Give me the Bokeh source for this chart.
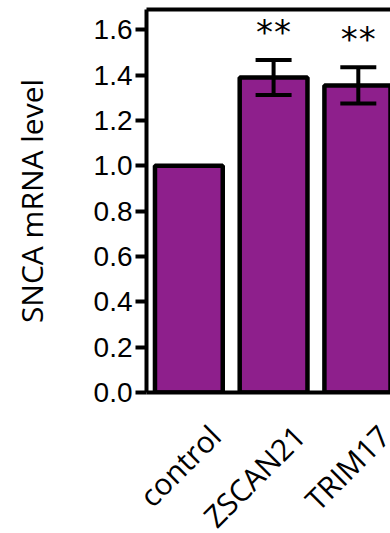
import numpy as np
from bokeh.plotting import figure
from bokeh.layouts import column
from bokeh.models import (ColumnDataSource, Range1d, FixedTicker, LinearAxis,
                          Whisker, TeeHead, NumeralTickFormatter)
from bokeh.embed import file_html
from bokeh.resources import INLINE
from bokeh.core.properties import value

# ---- data ----
categories = ["control", "ZSCAN21", "TRIM17"]
levels = [1.0, 1.39, 1.355]
errors = [0.0, 0.077, 0.08]
stars = ["", "**", "**"]
y_ticks = [0.0, 0.2, 0.4, 0.6, 0.8, 1.0, 1.2, 1.4, 1.6]

PURPLE = "#8E1F8C"
W = 390
LEFT = 146          # frame left border
XMAX = 2.88         # visible part of the category axis (right edge is cropped)
TOP_H = 410         # height of the plot part
BOT_H = 533 - TOP_H # height of the category-label strip

pos = np.arange(len(categories)) + 0.5
lv = np.array(levels)
er = np.array(errors)

src = ColumnDataSource(dict(x=pos, top=lv, lab_y=np.ones(len(pos)), cat=categories))
has_err = er > 0
err_src = ColumnDataSource(dict(x=pos[has_err], upper=(lv + er)[has_err],
                                lower=(lv - er)[has_err]))
star_x, star_y, star_t = [], [], []
for x, u, s in zip(pos, lv + er, stars):
    for ch in s:
        star_x.append(x)
        star_y.append(u)
        star_t.append(ch)
star_src = ColumnDataSource(dict(x=star_x, y=star_y, t=star_t,
                                 dx=[-9 if i % 2 == 0 else 9 for i in range(len(star_t))]))

p = figure(width=W, height=TOP_H, output_backend="svg", toolbar_location=None,
           x_range=Range1d(0, XMAX), y_range=Range1d(0, 1.69),
           min_border_left=LEFT, min_border_right=0, min_border_top=9,
           min_border_bottom=18)
p.frame_align = False
p.outline_line_color = None
p.grid.visible = False
p.background_fill_color = "white"
p.border_fill_color = "white"

p.vbar(x="x", top="top", bottom=0, width=0.8, source=src,
       fill_color=PURPLE, line_color="black", line_width=4.5)

w = Whisker(base="x", upper="upper", lower="lower", source=err_src,
            line_color="black", line_width=4, level="annotation",
            upper_head=TeeHead(size=36, line_width=4, line_color="black"),
            lower_head=TeeHead(size=36, line_width=4, line_color="black"))
p.add_layout(w)

p.text(x="x", y="y", text="t", x_offset="dx", source=star_src,
       text_font=value("DejaVu Sans"), text_font_size="34px",
       text_align="center", text_baseline="middle", y_offset=-28,
       text_color="black")

# y axis
ya = p.yaxis[0]
ya.ticker = FixedTicker(ticks=y_ticks)
ya.formatter = NumeralTickFormatter(format="0.0")
ya.axis_label = "SNCA mRNA level"
ya.axis_label_text_font = "Open Sans"
ya.axis_label_text_font_size = "30px"
ya.axis_label_text_font_style = "normal"
ya.axis_label_text_color = "black"
ya.axis_label_standoff = 39
ya.major_label_text_font = "Liberation Sans"
ya.major_label_text_font_size = "28px"
ya.major_label_text_color = "black"
ya.major_label_standoff = 3
ya.major_tick_out = 11
ya.major_tick_in = 0
ya.major_tick_line_width = 4
ya.minor_tick_line_color = None
ya.axis_line_width = 4
ya.axis_line_color = "black"

# x axis: line only
xa = p.xaxis[0]
xa.ticker = FixedTicker(ticks=[])
xa.major_tick_out = 0
xa.major_tick_in = 0
xa.major_label_standoff = 0
xa.minor_tick_line_color = None
xa.axis_line_width = 4
xa.axis_line_color = "black"

# top frame line
top = LinearAxis(ticker=FixedTicker(ticks=[]), major_tick_out=0, major_tick_in=0,
                 major_label_standoff=0,
                 minor_tick_line_color=None, major_label_text_font_size="0px",
                 axis_line_width=4, axis_line_color="black")
p.add_layout(top, "above")

# strip below with rotated category labels, sharing the same x scale
scale = (W - LEFT) / XMAX
lab = figure(width=W, height=BOT_H, output_backend="svg", toolbar_location=None,
             x_range=Range1d(-LEFT / scale, XMAX), y_range=Range1d(0, 1),
             min_border_left=0, min_border_right=0, min_border_top=0,
             min_border_bottom=0, x_axis_location=None, y_axis_location=None)
lab.frame_align = False
lab.outline_line_color = None
lab.grid.visible = False
lab.background_fill_color = "white"
lab.border_fill_color = "white"
lab.text(x="x", y="lab_y", text="cat", source=src, angle=np.pi / 4,
         text_align="right", text_baseline="alphabetic",
         x_offset=26, y_offset=20,
         text_font=value("Open Sans"), text_font_size="30px", text_color="black")

layout = column(p, lab, spacing=0)
open("out.html", "w").write(file_html(layout, INLINE))
